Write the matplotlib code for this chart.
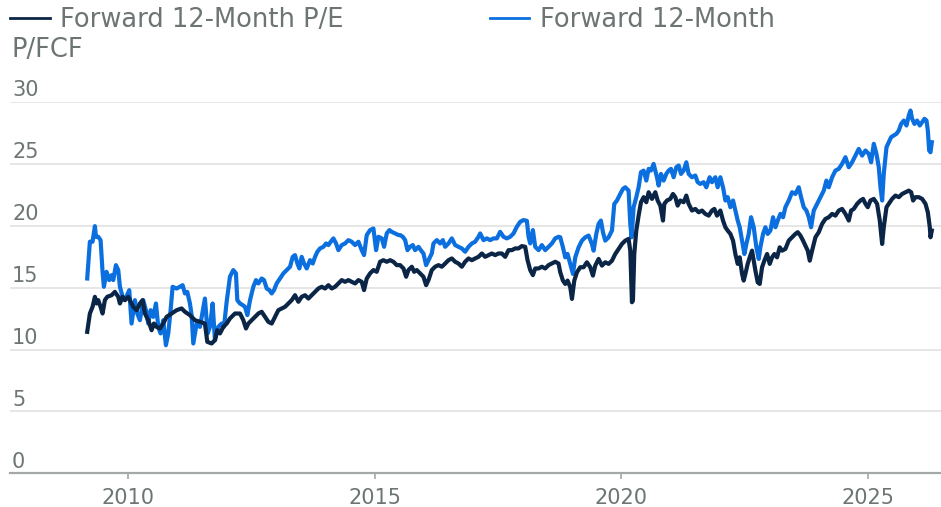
import matplotlib
matplotlib.use("Agg")
import matplotlib.pyplot as plt
from matplotlib.lines import Line2D
from matplotlib.transforms import blended_transform_factory, offset_copy

# --- data (decimal years, multiple) ---
fcf_years = [2009.175, 2009.229, 2009.283, 2009.331, 2009.351, 2009.398, 2009.446, 2009.486,
             2009.513, 2009.567, 2009.621, 2009.669, 2009.703, 2009.757, 2009.804, 2009.838,
             2009.892, 2009.939, 2010.027, 2010.074, 2010.142, 2010.189, 2010.243, 2010.311,
             2010.365, 2010.412, 2010.460, 2010.514, 2010.568, 2010.615, 2010.662, 2010.716,
             2010.770, 2010.818, 2010.865, 2010.906, 2010.987, 2011.054, 2011.109, 2011.156,
             2011.203, 2011.257, 2011.291, 2011.325, 2011.393, 2011.460, 2011.561, 2011.616,
             2011.663, 2011.717, 2011.764, 2011.832, 2011.899, 2011.947, 2012.001, 2012.068,
             2012.136, 2012.190, 2012.217,
             2012.272, 2012.326, 2012.373, 2012.421, 2012.475, 2012.542, 2012.596, 2012.644,
             2012.711, 2012.759, 2012.813, 2012.867, 2012.914, 2012.961, 2013.015, 2013.083,
             2013.151, 2013.218, 2013.286, 2013.340, 2013.387, 2013.435, 2013.475, 2013.522,
             2013.570, 2013.624, 2013.691, 2013.746, 2013.793, 2013.840, 2013.894, 2013.962,
             2014.016, 2014.063, 2014.111, 2014.165, 2014.219, 2014.266, 2014.334, 2014.401,
             2014.469, 2014.536, 2014.604, 2014.672, 2014.739, 2014.786, 2014.841, 2014.908,
             2014.976, 2015.030, 2015.077, 2015.145, 2015.192, 2015.246, 2015.300, 2015.347,
             2015.415, 2015.483,
             2015.517, 2015.571, 2015.619, 2015.666, 2015.720, 2015.774, 2015.821, 2015.889,
             2015.936, 2015.990, 2016.044, 2016.092, 2016.159, 2016.193, 2016.261, 2016.328,
             2016.383, 2016.430, 2016.497, 2016.565, 2016.633, 2016.700, 2016.768, 2016.835,
             2016.903, 2016.971, 2017.038, 2017.106, 2017.140, 2017.207, 2017.275, 2017.342,
             2017.410, 2017.478, 2017.545, 2017.613, 2017.680, 2017.748, 2017.816, 2017.883,
             2017.951, 2018.018, 2018.086, 2018.120, 2018.154, 2018.208, 2018.255, 2018.323,
             2018.390, 2018.458, 2018.526, 2018.593, 2018.661, 2018.728,
             2018.763, 2018.817, 2018.864, 2018.911, 2018.966, 2019.020, 2019.067, 2019.135,
             2019.202, 2019.270, 2019.337, 2019.405, 2019.439, 2019.493, 2019.540, 2019.587,
             2019.628, 2019.675, 2019.743, 2019.811, 2019.858, 2019.912, 2019.979, 2020.034,
             2020.081, 2020.148, 2020.182, 2020.209, 2020.250, 2020.304, 2020.351, 2020.399,
             2020.453, 2020.507, 2020.554, 2020.601, 2020.655, 2020.689, 2020.723, 2020.757,
             2020.804, 2020.858, 2020.912, 2020.960, 2021.007, 2021.061, 2021.115, 2021.163,
             2021.210, 2021.264, 2021.318, 2021.365, 2021.433, 2021.500, 2021.548, 2021.602,
             2021.669, 2021.723, 2021.791, 2021.838, 2021.906, 2021.953,
             2022.008, 2022.062, 2022.110, 2022.157, 2022.211, 2022.265, 2022.312, 2022.360,
             2022.400, 2022.448, 2022.495, 2022.535, 2022.583, 2022.630, 2022.684, 2022.738,
             2022.786, 2022.819, 2022.873, 2022.921, 2022.968, 2023.022, 2023.076, 2023.124,
             2023.171, 2023.225, 2023.279, 2023.326, 2023.394, 2023.461, 2023.529, 2023.597,
             2023.644, 2023.698, 2023.752, 2023.800, 2023.847, 2023.901, 2023.969, 2024.036,
             2024.104, 2024.158, 2024.205, 2024.273, 2024.340, 2024.408, 2024.475, 2024.543,
             2024.611, 2024.678, 2024.746, 2024.813, 2024.881, 2024.949, 2025.016, 2025.064,
             2025.118, 2025.172, 2025.219, 2025.253, 2025.287, 2025.320, 2025.375, 2025.422,
             2025.469, 2025.523, 2025.577, 2025.625, 2025.672, 2025.726, 2025.780, 2025.827,
             2025.861, 2025.895, 2025.942, 2025.996, 2026.050, 2026.098, 2026.145, 2026.186,
             2026.213, 2026.240, 2026.267, 2026.294]
fcf_values = [15.74, 18.71, 18.71, 19.97, 19.11, 19.11, 18.84, 16.28,
              15.07, 16.28, 15.61, 16.01, 15.61, 16.82, 16.42, 15.07,
              14.26, 13.99, 14.80, 12.10, 13.99, 12.91, 12.37, 13.99,
              13.18, 12.10, 13.18, 12.64, 13.72, 11.83, 11.30, 12.37,
              10.35, 11.30, 13.18, 15.07, 14.93, 15.07, 15.20, 14.53,
              14.66, 13.72, 12.78, 10.49, 12.10, 11.83, 14.12, 11.30,
              11.83, 13.72, 10.76, 11.83, 12.10, 11.83, 13.85, 15.88,
              16.42, 16.15, 13.99,
              13.72, 13.59, 13.45, 12.78, 13.99, 15.07, 15.61, 15.34,
              15.74, 15.61, 14.93, 14.80, 14.53, 14.80, 15.34, 15.74,
              16.15, 16.42, 16.69, 17.49, 17.63, 16.95, 16.55, 17.49,
              16.95, 16.55, 17.22, 16.95, 17.49, 17.90, 18.17, 18.30,
              18.57, 18.44, 18.71, 18.98, 18.57, 18.03, 18.44, 18.57,
              18.84, 18.71, 18.44, 18.71, 18.03, 17.63, 19.25, 19.65,
              19.78, 18.03, 19.11, 18.98, 18.30, 19.38, 19.65, 19.51,
              19.38, 19.25,
              19.25, 19.11, 18.84, 18.03, 18.30, 18.44, 18.03, 18.30,
              18.03, 17.76, 16.82, 17.22, 17.76, 18.57, 18.84, 18.57,
              18.84, 18.30, 18.57, 18.98, 18.44, 18.30, 18.17, 17.90,
              18.30, 18.57, 18.71, 19.11, 19.38, 18.84, 18.98, 18.84,
              18.98, 18.98, 19.51, 19.11, 18.98, 19.11, 19.38, 19.92,
              20.32, 20.46, 20.40, 19.11, 18.57, 19.65, 18.30, 18.03,
              18.44, 18.03, 18.30, 18.57, 18.98, 19.11,
              19.07, 18.26, 17.45, 17.72, 16.92, 16.11, 17.45, 18.26,
              18.80, 19.07, 19.21, 18.53, 17.99, 19.34, 20.15, 20.42,
              19.48, 18.80, 19.07, 19.61, 21.77, 22.04, 22.57, 22.98,
              23.11, 22.84, 20.15, 19.07, 21.50, 22.31, 23.11, 24.33,
              24.46, 23.65, 24.60, 24.46, 25.00, 24.46, 23.92, 23.25,
              24.19, 23.65, 24.19, 24.46, 24.60, 23.92, 24.73, 24.87,
              24.19, 24.46, 25.13, 24.19, 23.92, 24.06, 23.52, 23.38,
              23.52, 23.11, 23.92, 23.52, 23.92, 23.11,
              23.92, 23.11, 22.04, 22.31, 21.50, 22.04, 21.23, 20.42,
              19.88, 18.80, 17.72, 18.53, 19.34, 20.69, 19.88, 18.26,
              17.32, 18.26, 19.34, 19.88, 19.34, 19.61, 20.69, 19.88,
              20.42, 20.96, 20.69, 21.50, 22.04, 22.71, 22.57, 23.11,
              22.31, 21.50, 21.23, 20.69, 19.88, 21.23, 21.77, 22.31,
              22.84, 23.65, 23.11, 23.92, 24.46, 24.60, 25.00, 25.54,
              24.73, 25.13, 25.67, 26.21, 25.67, 26.08, 25.81, 25.13,
              26.62, 25.81, 24.73, 23.11, 22.04, 24.19, 26.35, 26.75,
              27.16, 27.29, 27.43, 27.70, 28.23, 28.50, 28.10, 28.91,
              29.31, 28.64, 28.23, 28.50, 28.10, 28.37, 28.64, 28.50,
              27.70, 26.08, 25.94, 26.75]

pe_years = [2009.175, 2009.229, 2009.283, 2009.331, 2009.364, 2009.398, 2009.446, 2009.486,
            2009.533, 2009.581, 2009.669, 2009.736, 2009.804, 2009.838, 2009.892, 2009.939,
            2010.007, 2010.041, 2010.108, 2010.176, 2010.243, 2010.297, 2010.345, 2010.412,
            2010.480, 2010.527, 2010.581, 2010.649, 2010.716, 2010.784, 2010.885, 2010.987,
            2011.088, 2011.156, 2011.257, 2011.359, 2011.460, 2011.561, 2011.609, 2011.697,
            2011.764, 2011.811, 2011.866, 2011.933, 2012.001, 2012.068, 2012.170,
            2012.272, 2012.339, 2012.393, 2012.441, 2012.508, 2012.576, 2012.644, 2012.711,
            2012.779, 2012.846, 2012.914, 2012.982, 2013.049, 2013.117, 2013.184, 2013.252,
            2013.320, 2013.387, 2013.455, 2013.522, 2013.590, 2013.658, 2013.725, 2013.793,
            2013.860, 2013.928, 2013.996, 2014.063, 2014.131, 2014.198, 2014.266, 2014.334,
            2014.401, 2014.469, 2014.536, 2014.604, 2014.672, 2014.739, 2014.786, 2014.841,
            2014.908, 2014.976, 2015.043, 2015.111, 2015.178, 2015.246, 2015.314, 2015.381,
            2015.449,
            2015.517, 2015.585, 2015.639, 2015.686, 2015.754, 2015.801, 2015.855, 2015.923,
            2015.990, 2016.044, 2016.092, 2016.159, 2016.227, 2016.295, 2016.362, 2016.430,
            2016.497, 2016.565, 2016.633, 2016.700, 2016.768, 2016.835, 2016.903, 2016.971,
            2017.038, 2017.106, 2017.174, 2017.241, 2017.309, 2017.376, 2017.444, 2017.511,
            2017.579, 2017.647, 2017.714, 2017.782, 2017.849, 2017.917, 2017.985, 2018.052,
            2018.100, 2018.154, 2018.208, 2018.255, 2018.323, 2018.390, 2018.458, 2018.526,
            2018.593, 2018.661, 2018.728,
            2018.763, 2018.817, 2018.864, 2018.911, 2018.966, 2019.000, 2019.047, 2019.101,
            2019.168, 2019.236, 2019.303, 2019.371, 2019.425, 2019.472, 2019.540, 2019.608,
            2019.675, 2019.743, 2019.811, 2019.878, 2019.946, 2020.013, 2020.081, 2020.148,
            2020.182, 2020.216, 2020.236, 2020.263, 2020.304, 2020.351, 2020.399, 2020.453,
            2020.507, 2020.554, 2020.622, 2020.689, 2020.737, 2020.791, 2020.845, 2020.872,
            2020.926, 2020.993, 2021.047, 2021.095, 2021.142, 2021.196, 2021.264, 2021.318,
            2021.365, 2021.433, 2021.500, 2021.568, 2021.636, 2021.703, 2021.771, 2021.838,
            2021.886, 2021.940,
            2022.008, 2022.062, 2022.110, 2022.157, 2022.211, 2022.265, 2022.312, 2022.360,
            2022.400, 2022.448, 2022.481, 2022.515, 2022.562, 2022.603, 2022.650, 2022.684,
            2022.718, 2022.765, 2022.806, 2022.853, 2022.900, 2022.955, 2023.009, 2023.056,
            2023.103, 2023.157, 2023.211, 2023.259, 2023.326, 2023.394, 2023.461, 2023.529,
            2023.576, 2023.630, 2023.684, 2023.732, 2023.779, 2023.820, 2023.867, 2023.935,
            2024.002, 2024.070, 2024.137, 2024.205, 2024.273, 2024.340, 2024.408, 2024.475,
            2024.543, 2024.611, 2024.658, 2024.712, 2024.780, 2024.847, 2024.901, 2024.949,
            2024.996, 2025.050, 2025.118, 2025.185, 2025.239, 2025.287, 2025.320, 2025.375,
            2025.422, 2025.489, 2025.557, 2025.625, 2025.692, 2025.760, 2025.827, 2025.875,
            2025.915, 2025.962, 2026.030, 2026.098, 2026.166, 2026.213, 2026.253, 2026.267,
            2026.294]
pe_values = [11.43, 12.91, 13.45, 14.26, 13.72, 13.99, 13.45, 12.91,
             13.99, 14.26, 14.39, 14.66, 14.26, 13.72, 14.26, 13.99,
             14.26, 13.99, 13.45, 13.18, 13.72, 13.99, 12.91, 12.37,
             11.56, 12.10, 11.83, 11.70, 12.10, 12.64, 12.91, 13.18,
             13.32, 13.05, 12.78, 12.37, 12.24, 12.10, 10.62, 10.49,
             10.76, 11.56, 11.30, 11.83, 12.10, 12.51, 12.91,
             12.91, 12.37, 11.70, 12.10, 12.37, 12.64, 12.91, 13.05,
             12.64, 12.24, 12.10, 12.64, 13.18, 13.32, 13.45, 13.72,
             13.99, 14.39, 13.86, 14.26, 14.39, 14.12, 14.39, 14.66,
             14.93, 15.07, 14.93, 15.20, 14.93, 15.07, 15.34, 15.61,
             15.47, 15.61, 15.47, 15.34, 15.61, 15.47, 14.80, 15.74,
             16.15, 16.42, 16.28, 17.09, 17.22, 17.09, 17.22, 17.09,
             16.82,
             16.82, 16.55, 15.88, 16.42, 16.69, 16.28, 16.42, 16.15,
             15.88, 15.20, 15.61, 16.42, 16.69, 16.82, 16.69, 16.95,
             17.22, 17.36, 17.09, 16.95, 16.69, 17.09, 17.36, 17.22,
             17.36, 17.49, 17.76, 17.49, 17.63, 17.76, 17.63, 17.76,
             17.76, 17.49, 18.03, 18.03, 18.17, 18.17, 18.36, 18.30,
             17.22, 16.42, 16.01, 16.55, 16.55, 16.69, 16.55, 16.82,
             16.95, 17.09, 16.95,
             16.24, 15.57, 15.30, 15.57, 15.03, 14.09, 15.57, 16.24,
             16.65, 16.65, 17.05, 16.65, 15.97, 16.78, 17.32, 16.78,
             17.05, 16.92, 17.18, 17.72, 18.13, 18.53, 18.80, 18.94,
             17.99, 13.82, 13.95, 17.72, 19.61, 20.82, 21.90, 22.31,
             21.90, 22.71, 22.17, 22.71, 22.04, 21.63, 20.42, 21.77,
             22.04, 22.17, 22.57, 22.31, 21.63, 22.04, 21.90, 22.44,
             21.77, 21.23, 21.36, 21.09, 21.23, 20.96, 20.82, 21.23,
             21.36, 20.82,
             21.23, 20.42, 19.88, 19.61, 19.34, 18.80, 17.72, 16.92,
             17.45, 16.11, 15.57, 16.11, 16.92, 17.45, 17.99, 17.18,
             16.38, 15.43, 15.30, 16.65, 17.18, 17.72, 16.92, 17.45,
             17.72, 17.45, 18.26, 17.99, 18.13, 18.80, 19.07, 19.34,
             19.48, 19.21, 18.80, 18.40, 17.99, 17.18, 17.99, 19.07,
             19.48, 20.15, 20.55, 20.69, 20.96, 20.82, 21.23, 21.36,
             20.96, 20.42, 21.23, 21.36, 21.77, 22.04, 22.17, 21.77,
             21.50, 22.04, 22.17, 21.77, 20.42, 18.53, 19.88, 21.50,
             21.77, 22.17, 22.44, 22.31, 22.57, 22.71, 22.84, 22.71,
             22.04, 22.31, 22.31, 22.17, 21.77, 21.09, 19.88, 19.07,
             19.61]

y_ticks = [0, 5, 10, 15, 20, 25, 30]
x_ticks = [2010, 2015, 2020, 2025]
labels = ["Forward 12-Month P/E", "Forward 12-Month", "P/FCF"]

C_PE = "#0b2546"
C_FCF = "#0b6fe0"
C_TXT = "#6d7574"

plt.rcParams["font.family"] = ["DejaVu Sans"]

W, H = 941, 507
fig = plt.figure(figsize=(W / 100, H / 100), dpi=100)
ax = fig.add_axes([10 / W, 33.7 / H, 931 / W, (473.3 - 102) / H])

ax.plot(pe_years, pe_values, color=C_PE, lw=3, solid_joinstyle="round", zorder=3)
ax.plot(fcf_years, fcf_values, color=C_FCF, lw=3, solid_joinstyle="round", zorder=2)

ax.set_xlim(2007.61, 2026.48)
ax.set_ylim(0, 30)
ax.set_yticks(y_ticks)
ax.set_xticks(x_ticks)
ax.set_xticklabels([str(t) for t in x_ticks])
ax.grid(axis="y", color="#e6e6e6", lw=1.4)
ax.set_axisbelow(True)
for s in ["left", "top", "right"]:
    ax.spines[s].set_visible(False)
ax.spines["bottom"].set_color("#a3a8a8")
ax.spines["bottom"].set_linewidth(1.6)
ax.spines["bottom"].set_zorder(4)
ax.tick_params(axis="y", length=0, labelleft=False)
ax.tick_params(axis="x", length=4.5, width=1.2, color="#a3a8a8",
               labelcolor=C_TXT, labelsize=15, pad=6)

# y labels sit above their gridlines, left aligned
trans = offset_copy(blended_transform_factory(ax.transAxes, ax.transData),
                    fig=fig, x=1.5, y=4, units="points")
for t in y_ticks:
    ax.text(0, t, str(t), transform=trans, ha="left", va="baseline",
            fontsize=15, color=C_TXT)

# legend drawn by hand (second label wraps to the left edge)
fig.add_artist(Line2D([10 / W, 50 / W], [1 - 17.7 / H] * 2, color=C_PE, lw=2))
fig.add_artist(Line2D([490 / W, 529 / W], [1 - 17.7 / H] * 2, color=C_FCF, lw=2))
fig.text(60 / W, 1 - 27.3 / H, labels[0], fontsize=18.5, color=C_TXT, va="baseline")
fig.text(540 / W, 1 - 27.3 / H, labels[1], fontsize=18.5, color=C_TXT, va="baseline")
fig.text(12 / W, 1 - 57.3 / H, labels[2], fontsize=18.5, color=C_TXT, va="baseline")

fig.savefig("out.png", dpi=100)
